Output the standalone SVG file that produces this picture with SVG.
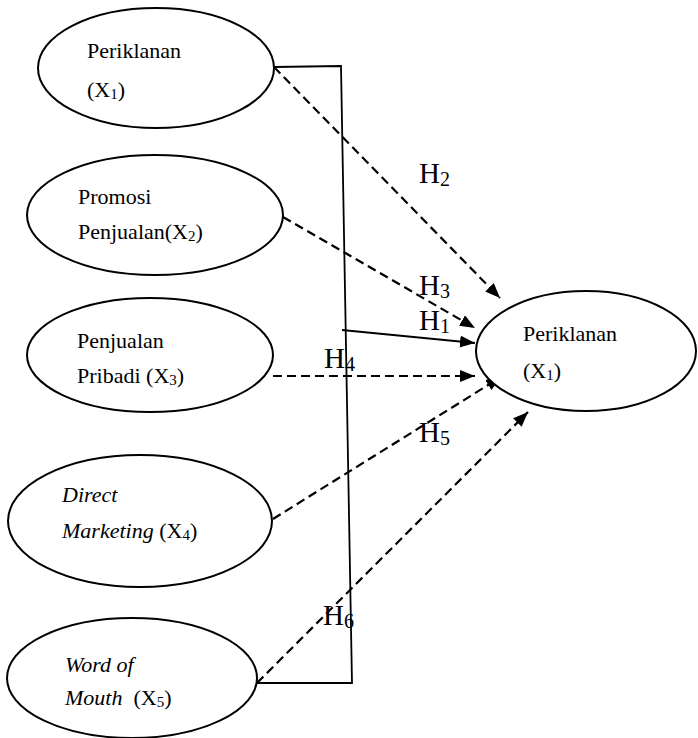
<svg xmlns="http://www.w3.org/2000/svg" width="698" height="738" viewBox="0 0 698 738" font-family="'Liberation Serif', 'Times New Roman', 'DejaVu Serif', serif">
<style>
.n{fill:#fff;stroke:#000;stroke-width:2}
.t{font-family:'Liberation Serif','Times New Roman','DejaVu Serif',serif;font-size:22px;fill:#000}
.i{font-style:italic}
.h{font-family:'Liberation Serif','Times New Roman','DejaVu Serif',serif;font-size:29px;fill:#000}
.s{font-size:15px}
.hs{font-size:20px}
.d{fill:none;stroke:#000;stroke-width:2.2;stroke-dasharray:9 5}
.l{fill:none;stroke:#000;stroke-width:1.8}
</style>
<defs>
<marker id="a" markerUnits="userSpaceOnUse" markerWidth="16" markerHeight="12" refX="15" refY="6" orient="auto">
<path d="M0,0 L15,6 L0,12 z" fill="#000"/>
</marker>
</defs>
<g id="connectors">
<polyline class="l" points="274,67 341,66 352,683 257,683"/>
<line class="d" x1="274" y1="67" x2="500" y2="298" marker-end="url(#a)"/>
<line class="d" x1="283" y1="217" x2="475" y2="328" marker-end="url(#a)"/>
<line class="l" x1="342" y1="330" x2="475" y2="343" marker-end="url(#a)"/>
<line class="d" x1="273" y1="376" x2="475" y2="376" marker-end="url(#a)"/>
<line class="d" x1="273" y1="519" x2="501" y2="377" marker-end="url(#a)"/>
<line class="d" x1="257" y1="683" x2="528" y2="412" marker-end="url(#a)"/>
<text class="h" x="419" y="183">H<tspan class="hs" dy="3">2</tspan></text>
<text class="h" x="419" y="295">H<tspan class="hs" dy="3">3</tspan></text>
<text class="h" x="419" y="330">H<tspan class="hs" dy="3">1</tspan></text>
<text class="h" x="324" y="368">H<tspan class="hs" dy="3">4</tspan></text>
<text class="h" x="419" y="442">H<tspan class="hs" dy="3">5</tspan></text>
<text class="h" x="323" y="625">H<tspan class="hs" dy="3">6</tspan></text>
</g>
<g id="x1">
<ellipse class="n" cx="156" cy="68" rx="118" ry="60"/>
<text class="t" x="87" y="58">Periklanan</text>
<text class="t" x="87" y="97">(X<tspan class="s" dy="2">1</tspan><tspan dy="-2">)</tspan></text>
</g>
<g id="x2">
<ellipse class="n" cx="155" cy="215" rx="128" ry="60"/>
<text class="t" x="78" y="204">Promosi</text>
<text class="t" x="78" y="239">Penjualan(X<tspan class="s" dy="2">2</tspan><tspan dy="-2">)</tspan></text>
</g>
<g id="x3">
<ellipse class="n" cx="150" cy="355" rx="123" ry="57"/>
<text class="t" x="77" y="348">Penjualan</text>
<text class="t" x="77" y="383">Pribadi (X<tspan class="s" dy="2">3</tspan><tspan dy="-2">)</tspan></text>
</g>
<g id="x4">
<ellipse class="n" cx="140" cy="521" rx="132" ry="66"/>
<text class="t i" x="62" y="502">Direct</text>
<text class="t" x="62" y="538"><tspan class="i">Marketing</tspan> (X<tspan class="s" dy="2">4</tspan><tspan dy="-2">)</tspan></text>
</g>
<g id="x5">
<ellipse class="n" cx="132" cy="678" rx="125" ry="60"/>
<text class="t i" x="65" y="672">Word of</text>
<text class="t" x="65" y="705" xml:space="preserve"><tspan class="i">Mouth</tspan>  (X<tspan class="s" dy="2">5</tspan><tspan dy="-2">)</tspan></text>
</g>
<g id="y">
<ellipse class="n" cx="586" cy="351" rx="110" ry="60"/>
<text class="t" x="523" y="341">Periklanan</text>
<text class="t" x="523" y="378">(X<tspan class="s" dy="2">1</tspan><tspan dy="-2">)</tspan></text>
</g>
</svg>
